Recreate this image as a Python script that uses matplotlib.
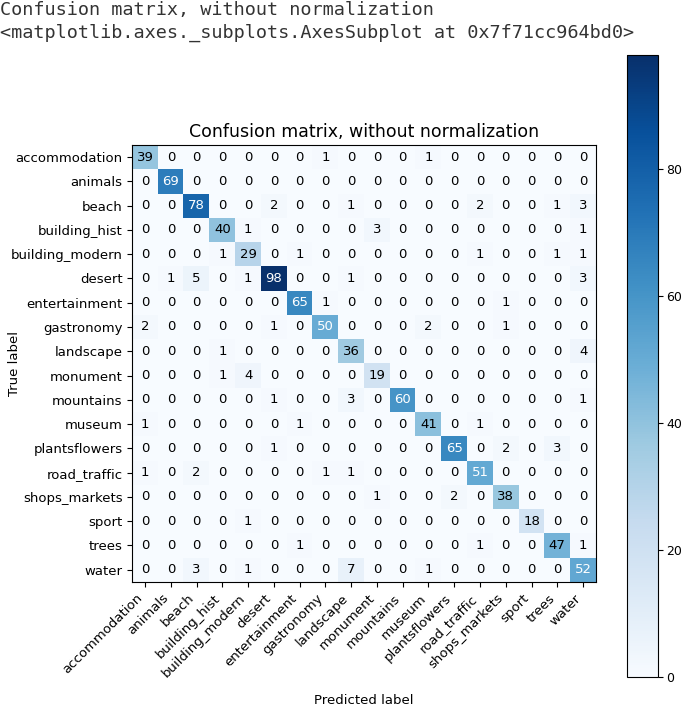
import numpy as np
import matplotlib
matplotlib.use("Agg")
import matplotlib.pyplot as plt

# Class names
classes = ["accommodation", "animals", "beach", "building_hist", "building_modern",
           "desert", "entertainment", "gastronomy", "landscape", "monument",
           "mountains", "museum", "plantsflowers", "road_traffic", "shops_markets",
           "sport", "trees", "water"]

# Confusion matrix rows (true label)
row_accommodation = [39, 0, 0, 0, 0, 0, 0, 1, 0, 0, 0, 1, 0, 0, 0, 0, 0, 0]
row_animals = [0, 69, 0, 0, 0, 0, 0, 0, 0, 0, 0, 0, 0, 0, 0, 0, 0, 0]
row_beach = [0, 0, 78, 0, 0, 2, 0, 0, 1, 0, 0, 0, 0, 2, 0, 0, 1, 3]
row_building_hist = [0, 0, 0, 40, 1, 0, 0, 0, 0, 3, 0, 0, 0, 0, 0, 0, 0, 1]
row_building_modern = [0, 0, 0, 1, 29, 0, 1, 0, 0, 0, 0, 0, 0, 1, 0, 0, 1, 1]
row_desert = [0, 1, 5, 0, 1, 98, 0, 0, 1, 0, 0, 0, 0, 0, 0, 0, 0, 3]
row_entertainment = [0, 0, 0, 0, 0, 0, 65, 1, 0, 0, 0, 0, 0, 0, 1, 0, 0, 0]
row_gastronomy = [2, 0, 0, 0, 0, 1, 0, 50, 0, 0, 0, 2, 0, 0, 1, 0, 0, 0]
row_landscape = [0, 0, 0, 1, 0, 0, 0, 0, 36, 0, 0, 0, 0, 0, 0, 0, 0, 4]
row_monument = [0, 0, 0, 1, 4, 0, 0, 0, 0, 19, 0, 0, 0, 0, 0, 0, 0, 0]
row_mountains = [0, 0, 0, 0, 0, 1, 0, 0, 3, 0, 60, 0, 0, 0, 0, 0, 0, 1]
row_museum = [1, 0, 0, 0, 0, 0, 1, 0, 0, 0, 0, 41, 0, 1, 0, 0, 0, 0]
row_plantsflowers = [0, 0, 0, 0, 0, 1, 0, 0, 0, 0, 0, 0, 65, 0, 2, 0, 3, 0]
row_road_traffic = [1, 0, 2, 0, 0, 0, 0, 1, 1, 0, 0, 0, 0, 51, 0, 0, 0, 0]
row_shops_markets = [0, 0, 0, 0, 0, 0, 0, 0, 0, 1, 0, 0, 2, 0, 38, 0, 0, 0]
row_sport = [0, 0, 0, 0, 1, 0, 0, 0, 0, 0, 0, 0, 0, 0, 0, 18, 0, 0]
row_trees = [0, 0, 0, 0, 0, 0, 1, 0, 0, 0, 0, 0, 0, 1, 0, 0, 47, 1]
row_water = [0, 0, 3, 0, 1, 0, 0, 0, 7, 0, 0, 1, 0, 0, 0, 0, 0, 52]

cm = np.array([row_accommodation, row_animals, row_beach, row_building_hist,
               row_building_modern, row_desert, row_entertainment, row_gastronomy,
               row_landscape, row_monument, row_mountains, row_museum,
               row_plantsflowers, row_road_traffic, row_shops_markets, row_sport,
               row_trees, row_water])

fig = plt.figure(figsize=(6.85, 7.07), dpi=100)

# notebook output lines above the figure
fig.text(0.0, 0.998, "Confusion matrix, without normalization", family="DejaVu Sans Mono",
         fontsize=13.3, va="top", ha="left", color="#333333")
fig.text(0.0, 0.966, "<matplotlib.axes._subplots.AxesSubplot at 0x7f71cc964bd0>",
         family="DejaVu Sans Mono", fontsize=13.3, va="top", ha="left", color="#333333")

ax = fig.add_axes([0.193, 0.177, 0.677, 0.618])
im = ax.imshow(cm, interpolation="nearest", cmap=plt.cm.Blues, aspect="auto")
ax.set_title("Confusion matrix, without normalization", fontsize=12.5)

ticks = np.arange(len(classes))
ax.set_xticks(ticks)
ax.set_xticklabels(classes, rotation=45, ha="right", fontsize=9.5)
ax.set_yticks(ticks)
ax.set_yticklabels(classes, fontsize=9.5)

thresh = cm.max() / 2.0
for i in range(cm.shape[0]):
    for j in range(cm.shape[1]):
        ax.text(j, i, format(cm[i, j], "d"), ha="center", va="center", fontsize=9.5,
                color="white" if cm[i, j] > thresh else "black")

ax.set_ylabel("True label", fontsize=9.5)
ax.yaxis.set_label_coords(-0.24, 0.5)
ax.set_xlabel("Predicted label", fontsize=9.5, labelpad=10)

cax = fig.add_axes([0.915, 0.042, 0.046, 0.880])
cb = fig.colorbar(im, cax=cax)
cb.set_ticks([0, 20, 40, 60, 80])
cb.ax.tick_params(labelsize=9, pad=2)

fig.savefig("out.png", dpi=100)
